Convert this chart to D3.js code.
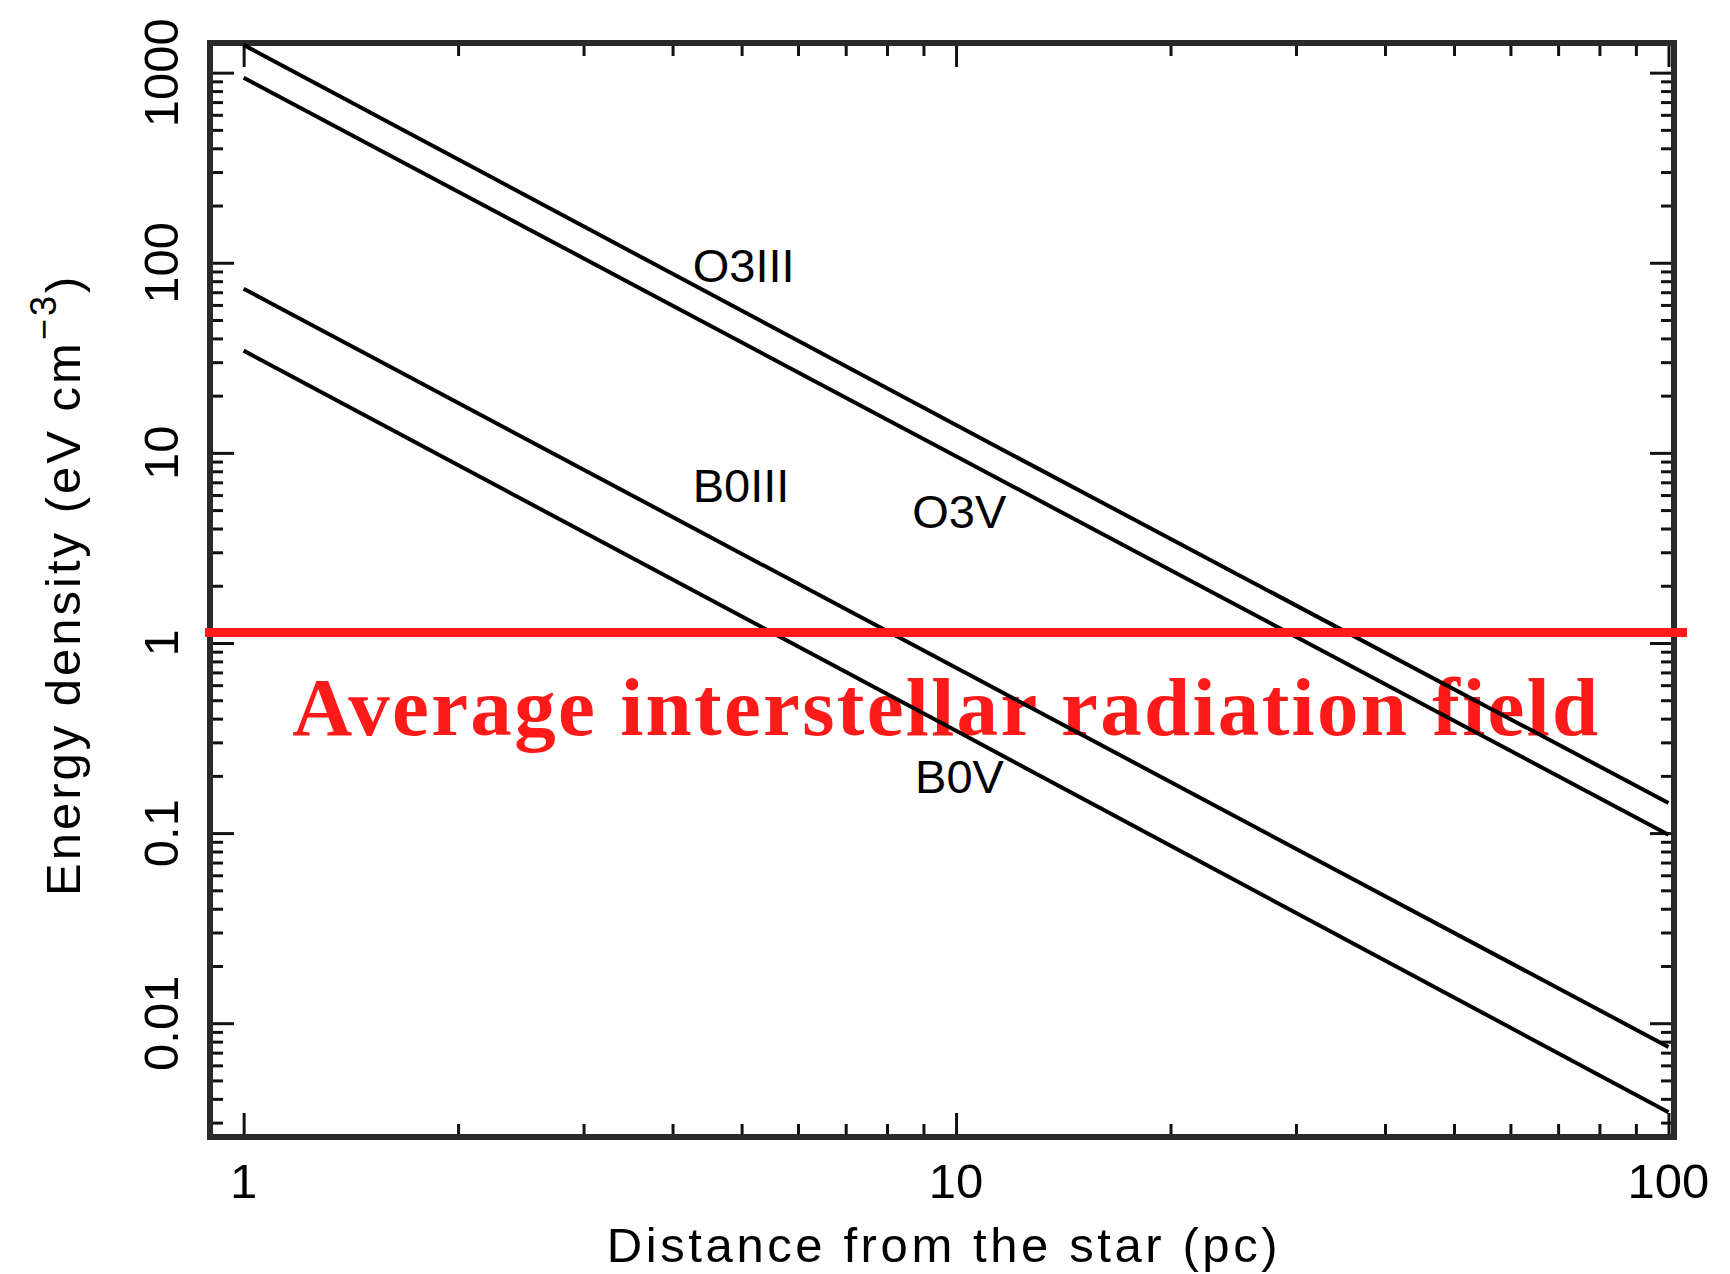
<!DOCTYPE html>
<html>
<head>
<meta charset="utf-8">
<script src="https://cdn.jsdelivr.net/npm/d3@7"></script>
<style>
  html, body { margin: 0; padding: 0; background: #fff; }
  svg { display: block; }
  .sans { font-family: "Liberation Sans", Arial, sans-serif; fill: #000; }
</style>
</head>
<body>
<div id="vis"></div>
<script>
// data (energy density in eV cm^-3 vs distance in pc)
var distance = [1, 10, 100];
var seriesNames = ['O3III', 'O3V', 'B0III', 'B0V'];
var o3iii = [1400, 14, 0.144];
var o3v = [940, 9.6, 0.098];
var b0iii = [73, 0.74, 0.0075];
var b0v = [34.5, 0.345, 0.0034];
var isrfValue = 1.135;
var isrfLabel = 'Average interstellar radiation field';

// tick labels
var xMajor = [1, 10, 100];
var xMajorLabels = ['1', '10', '100'];
var yMajor = [0.01, 0.1, 1, 10, 100, 1000];
var yMajorLabels = ['0.01', '0.1', '1', '10', '100', '1000'];

// where the series names sit (data coords)
var labelX = [4.27, 8.68, 4.27, 8.76];
var labelY = [79.6, 4.04, 5.53, 0.163];

//layout
var W = 1730, H = 1274;
var frame = { left: 210, right: 1674, top: 43, bottom: 1137 };
var majorLen = 24, minorLen = 13;

var x = d3.scaleLog().domain([0.897, 101.8]).range([frame.left, frame.right]);
var y = d3.scaleLog().domain([0.00252, 1432]).range([frame.bottom, frame.top]);

var svg = d3.select('#vis').append('svg')
    .attr('width', W)
    .attr('height', H);

var xMinor = x.ticks().filter(function (d) { return xMajor.indexOf(d) < 0; });
var yMinor = y.ticks().filter(function (d) {
    return yMajor.every(function (m) { return Math.abs(m - d) / m > 1e-6; });
});

function addAxis(axis, tx, ty) {
    var g = svg.append('g')
        .attr('transform', 'translate(' + tx + ',' + ty + ')')
        .call(axis);
    g.select('.domain').remove();
    g.selectAll('text').remove();
    g.selectAll('line').attr('stroke', '#111').attr('stroke-width', 3);
}

// ticks point inwards on all four sides
addAxis(d3.axisBottom(x).tickValues(xMajor).tickSize(-majorLen), 0, frame.bottom);
addAxis(d3.axisBottom(x).tickValues(xMinor).tickSize(-minorLen), 0, frame.bottom);
addAxis(d3.axisTop(x).tickValues(xMajor).tickSize(-majorLen), 0, frame.top);
addAxis(d3.axisTop(x).tickValues(xMinor).tickSize(-minorLen), 0, frame.top);
addAxis(d3.axisLeft(y).tickValues(yMajor).tickSize(-majorLen), frame.left, 0);
addAxis(d3.axisLeft(y).tickValues(yMinor).tickSize(-minorLen), frame.left, 0);
addAxis(d3.axisRight(y).tickValues(yMajor).tickSize(-majorLen), frame.right, 0);
addAxis(d3.axisRight(y).tickValues(yMinor).tickSize(-minorLen), frame.right, 0);

// frame
svg.append('rect')
    .attr('x', frame.left)
    .attr('y', frame.top)
    .attr('width', frame.right - frame.left)
    .attr('height', frame.bottom - frame.top)
    .attr('fill', 'none')
    .attr('stroke', '#2a2a2a')
    .attr('stroke-width', 6);

// tick labels
svg.selectAll('.xlab')
    .data(xMajor)
    .enter()
    .append('text')
    .attr('class', 'sans xlab')
    .attr('x', function (d) { return x(d); })
    .attr('y', 1198)
    .attr('text-anchor', 'middle')
    .style('font-size', '49px')
    .text(function (d, i) { return xMajorLabels[i]; });

svg.selectAll('.ylab')
    .data(yMajor)
    .enter()
    .append('text')
    .attr('class', 'sans ylab')
    .attr('transform', function (d) { return 'translate(178,' + y(d) + ') rotate(-90)'; })
    .attr('text-anchor', 'middle')
    .style('font-size', '49px')
    .text(function (d, i) { return yMajorLabels[i]; });

// axis titles
svg.append('text')
    .attr('class', 'sans')
    .attr('x', 944)
    .attr('y', 1262)
    .attr('text-anchor', 'middle')
    .style('font-size', '49px')
    .style('letter-spacing', '3.6px')
    .text('Distance from the star (pc)');

var yTitle = svg.append('text')
    .attr('class', 'sans')
    .attr('transform', 'translate(80,896) rotate(-90)')
    .style('font-size', '49px')
    .style('letter-spacing', '3px');
yTitle.append('tspan').text('Energy density (eV cm');
yTitle.append('tspan').attr('dy', -24).style('font-size', '36px').text('\u22123');
yTitle.append('tspan').attr('dy', 24).text(')');

// red label sits under the star lines
svg.append('text')
    .attr('x', x(1.17))
    .attr('y', y(0.33))
    .attr('textLength', 1306)
    .attr('lengthAdjust', 'spacing')
    .style('font-family', '"Liberation Serif", "Times New Roman", serif')
    .style('font-weight', 'bold')
    .style('font-size', '83px')
    .style('fill', '#ff1a1a')
    .text(isrfLabel);

// star lines
var series = [o3iii, o3v, b0iii, b0v];
var line = d3.line()
    .x(function (d, i) { return x(distance[i]); })
    .y(function (d) { return y(d); });

svg.selectAll('.star')
    .data(series)
    .enter()
    .append('path')
    .attr('class', 'star')
    .attr('d', line)
    .attr('fill', 'none')
    .attr('stroke', '#000')
    .attr('stroke-width', 4);

svg.selectAll('.star-name')
    .data(seriesNames)
    .enter()
    .append('text')
    .attr('class', 'sans star-name')
    .attr('x', function (d, i) { return x(labelX[i]); })
    .attr('y', function (d, i) { return y(labelY[i]); })
    .style('font-size', '47px')
    .text(function (d) { return d; });

// average ISRF level
svg.append('line')
    .attr('x1', 205)
    .attr('x2', 1687)
    .attr('y1', y(isrfValue))
    .attr('y2', y(isrfValue))
    .attr('stroke', '#ff1a1a')
    .attr('stroke-width', 9);
</script>
</body>
</html>
